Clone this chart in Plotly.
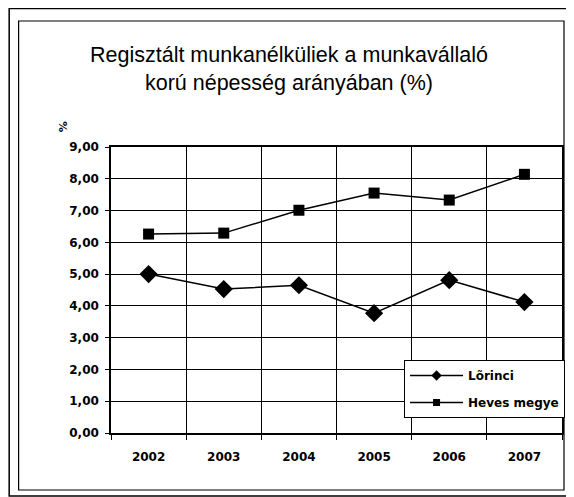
import plotly.graph_objects as go

years = [2002, 2003, 2004, 2005, 2006, 2007]
lorinci = [5.00, 4.53, 4.65, 3.77, 4.81, 4.12]
heves = [6.26, 6.29, 7.01, 7.55, 7.33, 8.14]
series_names = ["Lõrinci", "Heves megye"]
title_lines = ["Regisztált munkanélküliek a munkavállaló", "korú népesség arányában (%)"]

TFONT = "Liberation Sans, Arial, sans-serif"
BFONT = "DejaVu Sans, Verdana, sans-serif"

# page body has an 8px margin; work in window coordinates and shift
OFF = 8
W, H = 574 - OFF, 497 - OFF
L, R, T, B = 111 - OFF, 565 - OFF, 147 - OFF, 433 - OFF
pw, ph = R - L, B - T

def px(x):
    return (x - OFF - L) / pw

def py(y):
    return (B - (y - OFF)) / ph

fig = go.Figure()
fig.add_trace(go.Scatter(x=years, y=lorinci, name=series_names[0], mode="lines+markers",
                         line=dict(color="black", width=1.5), showlegend=False,
                         marker=dict(symbol="diamond", size=14, color="black")))
fig.add_trace(go.Scatter(x=years, y=heves, name=series_names[1], mode="lines+markers",
                         line=dict(color="black", width=1.5), showlegend=False,
                         marker=dict(symbol="square", size=11, color="black")))
# legend entries with smaller symbols
fig.add_trace(go.Scatter(x=[None], y=[None], name=series_names[0], mode="lines+markers",
                         line=dict(color="black", width=1.5), legendgroup="a",
                         marker=dict(symbol="diamond", size=8, color="black")))
fig.add_trace(go.Scatter(x=[None], y=[None], name=series_names[1], mode="lines+markers",
                         line=dict(color="black", width=1.5), legendgroup="b",
                         marker=dict(symbol="square", size=7, color="black")))

shapes = [
    dict(type="rect", xref="paper", yref="paper", x0=px(8.5), x1=px(600), y0=py(496), y1=py(8.5),
         line=dict(color="black", width=1.5)),
    dict(type="rect", xref="paper", yref="paper", x0=px(18), x1=px(567), y0=py(490), y1=py(21),
         line=dict(color="black", width=1.2)),
]

fig.update_layout(
    width=W, height=H,
    margin=dict(l=L, r=W - R, t=T, b=H - B),
    paper_bgcolor="white", plot_bgcolor="white",
    separators=",.",
    showlegend=True,
    legend=dict(x=px(406), y=py(360), xanchor="left", yanchor="top",
                bgcolor="white", bordercolor="black", borderwidth=1,
                font=dict(family=BFONT, size=12, color="black", weight="bold"),
                tracegroupgap=8, itemwidth=53),
    shapes=shapes,
    annotations=[
        dict(text=title_lines[0] + "<br>" + title_lines[1], xref="paper", yref="paper",
             x=px(290), y=py(69), xanchor="center", yanchor="middle", showarrow=False,
             font=dict(family=TFONT, size=21.5, color="black")),
        dict(text="%", xref="paper", yref="paper", x=px(64), y=py(127), textangle=-90,
             xanchor="center", yanchor="middle", showarrow=False,
             font=dict(family=BFONT, size=11, color="black", weight="bold")),
    ],
    xaxis=dict(range=[2001.5, 2007.5], tickvals=years, ticktext=[str(y) for y in years],
               showgrid=False, ticks="", showline=True, linecolor="black", linewidth=1.5,
               mirror=True, zeroline=False, ticklabelstandoff=12,
               tickfont=dict(family=BFONT, size=12, color="black", weight="bold"),
               minor=dict(tick0=2001.5, dtick=1, showgrid=True, gridcolor="black", gridwidth=1,
                          ticks="outside", ticklen=5, tickcolor="black")),
    yaxis=dict(range=[0, 9], dtick=1, tickformat=".2f", showgrid=True, gridcolor="black", gridwidth=1,
               ticks="outside", ticklen=4, tickcolor="black", showline=True, linecolor="black",
               linewidth=1.5, mirror=True, zeroline=False, ticklabelstandoff=4,
               tickfont=dict(family=BFONT, size=12, color="black", weight="bold")),
)

fig.write_html("out.html")
